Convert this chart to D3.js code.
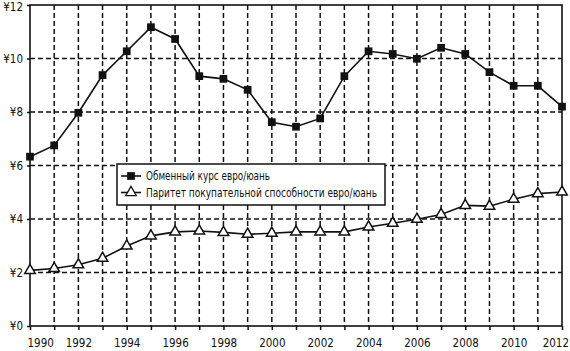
<!DOCTYPE html>
<html>
<head>
<meta charset="utf-8">
<script src="https://cdn.jsdelivr.net/npm/d3@7"></script>
<style>
  body { margin: 0; background: #fff; }
  text { font-family: "DejaVu Sans Condensed", "DejaVu Sans", sans-serif; font-stretch: condensed; fill: #111; }
</style>
</head>
<body>
<div id="chart"></div>
<script>
// Data
const years = d3.range(1990, 2013);
const exchangeRate = [6.33, 6.75, 7.97, 9.38, 10.27, 11.17, 10.73, 9.34, 9.24, 8.83, 7.62, 7.45, 7.76,
                      9.34, 10.27, 10.17, 9.99, 10.4, 10.17, 9.49, 8.98, 8.98, 8.2];
const ppp = [2.08, 2.15, 2.29, 2.53, 2.99, 3.37, 3.52, 3.55, 3.5, 3.43, 3.47, 3.52, 3.52,
             3.52, 3.7, 3.84, 3.99, 4.17, 4.51, 4.48, 4.74, 4.95, 5.01];
const yTicks = [0, 2, 4, 6, 8, 10, 12];
const xLabelYears = d3.range(1990, 2013, 2);
const seriesNames = ["Обменный курс евро/юань", "Паритет покупательной способности евро/юань"];

const W = 570, H = 351;
const margin = {top: 5, right: 8, bottom: 25, left: 30};
const width = W - margin.left - margin.right;
const height = H - margin.top - margin.bottom;

const svg = d3.select("#chart").append("svg")
    .attr("width", W)
    .attr("height", H);
const g = svg.append("g")
    .attr("transform", "translate(" + margin.left + "," + margin.top + ")");

const x = d3.scaleLinear().domain([1990, 2012]).range([0, width]);
const y = d3.scaleLinear().domain([0, 12]).range([height, 0]);

// dashed grid
g.append("g").selectAll("line.vg")
    .data(years.slice(1, -1))
    .join("line")
    .attr("x1", d => x(d)).attr("x2", d => x(d))
    .attr("y1", 0).attr("y2", height)
    .attr("stroke", "#111").attr("stroke-width", 1.5)
    .attr("stroke-dasharray", "5,3");
g.append("g").selectAll("line.hg")
    .data(yTicks.slice(1, -1))
    .join("line")
    .attr("x1", 0).attr("x2", width)
    .attr("y1", d => y(d)).attr("y2", d => y(d))
    .attr("stroke", "#111").attr("stroke-width", 1.5)
    .attr("stroke-dasharray", "5,3");

// frame
g.append("rect")
    .attr("width", width).attr("height", height)
    .attr("fill", "none").attr("stroke", "#111").attr("stroke-width", 1.6);

// axes
const xAxis = d3.axisBottom(x)
    .tickValues(years)
    .tickSize(4)
    .tickPadding(9)
    .tickFormat(d => xLabelYears.includes(d) ? d : "");
g.append("g")
    .attr("transform", "translate(0," + height + ")")
    .call(xAxis)
    .call(a => a.select(".domain").remove())
    .call(a => a.selectAll("line").attr("stroke", "#111").attr("stroke-width", 1.5))
    .call(a => a.selectAll("text").style("font-size", "11.5px").attr("font-family", null))
    .call(a => a.selectAll("text").filter(d => d === 1990).attr("text-anchor", "start").attr("x", -3))
    .call(a => a.selectAll("text").filter(d => d === 2012).attr("text-anchor", "end").attr("x", 6.5));

const yAxis = d3.axisLeft(y)
    .tickValues(yTicks)
    .tickSize(3)
    .tickPadding(4)
    .tickFormat(d => "¥" + d);
g.append("g")
    .call(yAxis)
    .call(a => a.select(".domain").remove())
    .call(a => a.selectAll("line").attr("stroke", "#111").attr("stroke-width", 1.5))
    .call(a => a.selectAll("text").style("font-size", "11.5px").attr("font-family", null))
    .call(a => a.selectAll("text").filter(d => d === 12).attr("dy", "0.45em"));

// lines
const line = d3.line().x((d, i) => x(years[i])).y(d => y(d));

g.append("path")
    .attr("d", line(exchangeRate))
    .attr("fill", "none").attr("stroke", "#111").attr("stroke-width", 1.6);
g.append("path")
    .attr("d", line(ppp))
    .attr("fill", "none").attr("stroke", "#111").attr("stroke-width", 1.6);

const square = d3.symbol().type(d3.symbolSquare).size(60);
const triangle = d3.symbol().type(d3.symbolTriangle).size(48);

g.selectAll(".sq")
    .data(exchangeRate)
    .join("path")
    .attr("class", "sq")
    .attr("transform", (d, i) => "translate(" + x(years[i]) + "," + y(d) + ")")
    .attr("d", square)
    .attr("fill", "#111");

g.selectAll(".tri")
    .data(ppp)
    .join("path")
    .attr("class", "tri")
    .attr("transform", (d, i) => "translate(" + x(years[i]) + "," + y(d) + ")")
    .attr("d", triangle)
    .attr("fill", "#fff").attr("stroke", "#111").attr("stroke-width", 1.5);

// legend
const legend = svg.append("g").attr("transform", "translate(117,164)");
legend.append("rect")
    .attr("width", 268).attr("height", 41)
    .attr("fill", "#fff").attr("stroke", "#111").attr("stroke-width", 1.5);

const textWidths = [124, 231];
const items = legend.selectAll(".item")
    .data(seriesNames)
    .join("g")
    .attr("class", "item")
    .attr("transform", (d, i) => "translate(0," + (12 + i * 16.5) + ")");
items.append("line")
    .attr("x1", 4).attr("x2", 24)
    .attr("stroke", "#111").attr("stroke-width", 1.6);
items.append("path")
    .attr("transform", "translate(14,0)")
    .attr("d", (d, i) => i === 0 ? square() : triangle())
    .attr("fill", (d, i) => i === 0 ? "#111" : "#fff")
    .attr("stroke", "#111").attr("stroke-width", (d, i) => i === 0 ? 0 : 1.3);
items.append("text")
    .attr("x", 29).attr("dy", "0.35em")
    .style("font-size", "11.5px")
    .attr("textLength", (d, i) => textWidths[i])
    .attr("lengthAdjust", "spacingAndGlyphs")
    .text(d => d);
</script>
</body>
</html>
